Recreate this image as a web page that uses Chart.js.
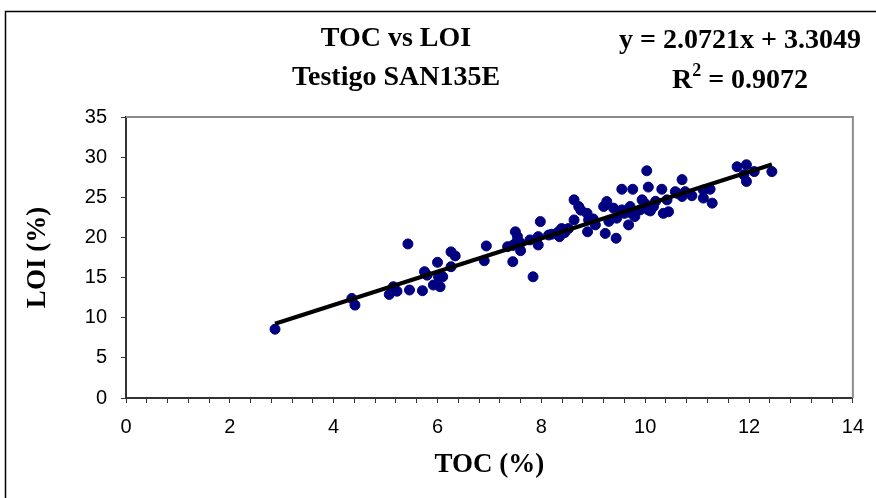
<!DOCTYPE html>
<html>
<head>
<meta charset="utf-8">
<script src="https://cdn.jsdelivr.net/npm/chart.js@4"></script>
<style>
  html, body { margin: 0; padding: 0; background: #fff; }
  #wrap { width: 876px; height: 498px; position: relative; }
</style>
</head>
<body>
<div id="wrap"><canvas id="chartToc"></canvas></div>
<script>
// TOC (%) values
const toc = [2.87, 4.35, 4.41, 5.07, 5.15, 5.22, 5.43, 5.46, 5.71, 5.75, 5.8, 5.92, 6.0, 6.02, 6.05, 6.1,
  6.26, 6.34, 6.26, 6.94, 6.9, 7.35, 7.5, 7.54, 7.5, 7.6, 7.45, 7.45, 7.6, 7.78, 7.94, 7.98, 7.94, 7.84,
  8.14, 8.2, 8.33, 8.39, 8.35, 8.45, 8.52, 8.63, 8.72, 8.76, 8.63, 8.88, 8.91, 8.89, 9.0, 9.04, 9.2, 9.26,
  9.3, 9.39, 9.23, 9.44, 9.55, 9.76, 9.55, 9.6, 9.45, 9.71, 9.68, 9.74, 9.8, 9.9, 9.94, 10.0, 10.03, 10.06,
  10.06, 10.1, 10.16, 10.2, 10.32, 10.35, 10.45, 10.42, 10.58, 10.71, 10.61, 10.71, 10.77, 10.9, 11.12,
  11.25, 11.12, 11.29, 11.77, 11.95, 11.9, 11.95, 12.1, 12.44];
// LOI (%) values
const loi = [8.57, 12.4, 11.57, 12.9, 13.86, 13.3, 19.19, 13.45, 13.36, 15.73, 15.3, 14.07, 16.9, 15.1, 13.86, 15.1,
  18.2, 17.7, 16.35, 18.94, 17.1, 18.85, 20.7, 20.1, 19.27, 18.35, 16.98, 19.0, 19.3, 19.69, 20.1, 21.97, 19.06, 15.1,
  20.3, 20.4, 20.7, 21.1, 20.1, 20.6, 21.1, 24.68, 23.85, 23.4, 22.18, 23.0, 22.18, 20.7, 22.3, 21.56, 23.85, 24.47,
  22.0, 23.65, 20.5, 19.9, 26.0, 26.0, 23.43, 23.0, 22.4, 23.85, 21.56, 23.0, 22.6, 23.43, 24.68, 24.2, 28.3, 26.27,
  23.43, 23.3, 23.85, 24.5, 26.0, 23.0, 23.2, 24.68, 25.7, 27.2, 25.5, 25.1, 25.7, 25.2, 25.9,
  26.0, 24.9, 24.27, 28.8, 29.05, 27.8, 26.97, 28.2, 28.2];

// linear trendline as printed on the chart
const slope = 2.0721;
const intercept = 3.3049;
const rSquared = 0.9072;

const xTicks = [0, 2, 4, 6, 8, 10, 12, 14];
const yTicks = [0, 5, 10, 15, 20, 25, 30, 35];

const points = toc.map((x, i) => ({ x: x, y: loi[i] }));
const xMin = Math.min(...toc);
const xMax = Math.max(...toc);
const trend = [
  { x: xMin, y: slope * xMin + intercept },
  { x: xMax, y: slope * xMax + intercept },
];

const serif = "'Liberation Serif', 'DejaVu Serif', serif";
const sans = "'Liberation Sans', Arial, sans-serif";

// frame, plot border and the header texts
const decorations = {
  id: 'decorations',
  beforeDraw(chart) {
    const { ctx } = chart;
    ctx.save();
    ctx.strokeStyle = '#000';
    ctx.lineWidth = 1.5;
    ctx.strokeRect(5.5, 11.5, 900, 520);
    ctx.restore();
  },
  afterDraw(chart) {
    const { ctx, chartArea: a } = chart;
    ctx.save();
    ctx.strokeStyle = '#8c8c8c';
    ctx.lineWidth = 2;
    ctx.beginPath();
    ctx.moveTo(a.left, a.top);
    ctx.lineTo(a.right, a.top);
    ctx.lineTo(a.right, a.bottom);
    ctx.stroke();

    const big = 'bold 28px ' + serif;
    const small = 'bold 18px ' + serif;
    ctx.fillStyle = '#000';
    ctx.textAlign = 'center';
    ctx.textBaseline = 'middle';
    ctx.font = big;
    ctx.fillText('TOC vs LOI', 396, 39);
    ctx.fillText('Testigo SAN135E', 396, 78);
    ctx.fillText('y = ' + slope.toFixed(4) + 'x + ' + intercept.toFixed(4), 740, 41);
    // R² with superscript
    const r1 = 'R', r3 = ' = ' + rSquared.toFixed(4);
    const w1 = ctx.measureText(r1).width;
    const w3 = ctx.measureText(r3).width;
    ctx.font = small;
    const w2 = ctx.measureText('2').width;
    const start = 740 - (w1 + w2 + w3) / 2;
    ctx.textAlign = 'left';
    ctx.font = big;
    ctx.fillText(r1, start, 81);
    ctx.font = small;
    ctx.fillText('2', start + w1, 71);
    ctx.font = big;
    ctx.fillText(r3, start + w1 + w2, 81);
    ctx.restore();
  }
};

const isMajor = v => Math.abs(v / 2 - Math.round(v / 2)) < 1e-6;

new Chart(document.getElementById('chartToc'), {
  type: 'scatter',
  data: {
    datasets: [
      {
        label: 'TOC vs LOI',
        data: points,
        backgroundColor: '#000080',
        borderColor: '#000080',
        pointRadius: 5,
        pointHoverRadius: 5,
        order: 2,
      },
      {
        type: 'line',
        label: 'Lineal',
        data: trend,
        borderColor: '#000',
        borderWidth: 4,
        pointRadius: 0,
        fill: false,
        order: 1,
      },
    ],
  },
  options: {
    responsive: true,
    maintainAspectRatio: false,
    animation: false,
    layout: { padding: { top: 117, right: 23, left: 0, bottom: 0 } },
    plugins: {
      legend: { display: false },
      tooltip: { enabled: false },
      title: { display: false },
    },
    scales: {
      x: {
        type: 'linear',
        min: xTicks[0],
        max: xTicks[xTicks.length - 1],
        afterFit(scale) { scale.height = 100; },
        border: { color: '#333', width: 2 },
        grid: { drawOnChartArea: false, tickLength: 5, color: '#333', tickWidth: 1 },
        ticks: {
          stepSize: 0.4,
          autoSkip: false,
          maxRotation: 0,
          padding: 12,
          color: '#000',
          font: { family: sans, size: 20 },
          callback: v => (isMajor(v) && xTicks.includes(Math.round(v))) ? String(Math.round(v)) : '',
        },
        title: {
          display: true,
          text: 'TOC (%)',
          color: '#000',
          font: { family: serif, size: 27, weight: 'bold' },
          padding: { top: 0, bottom: 17 },
        },
      },
      y: {
        min: yTicks[0],
        max: yTicks[yTicks.length - 1],
        afterFit(scale) { scale.width = 126; },
        border: { color: '#333', width: 2 },
        grid: { drawOnChartArea: false, tickLength: 5, color: '#333', tickWidth: 1 },
        ticks: {
          stepSize: 5,
          padding: 14,
          color: '#000',
          font: { family: sans, size: 20 },
        },
        title: {
          display: true,
          text: 'LOI (%)',
          color: '#000',
          font: { family: serif, size: 27, weight: 'bold' },
          padding: { top: 22, bottom: 0 },
        },
      },
    },
  },
  plugins: [decorations],
});
</script>
</body>
</html>
